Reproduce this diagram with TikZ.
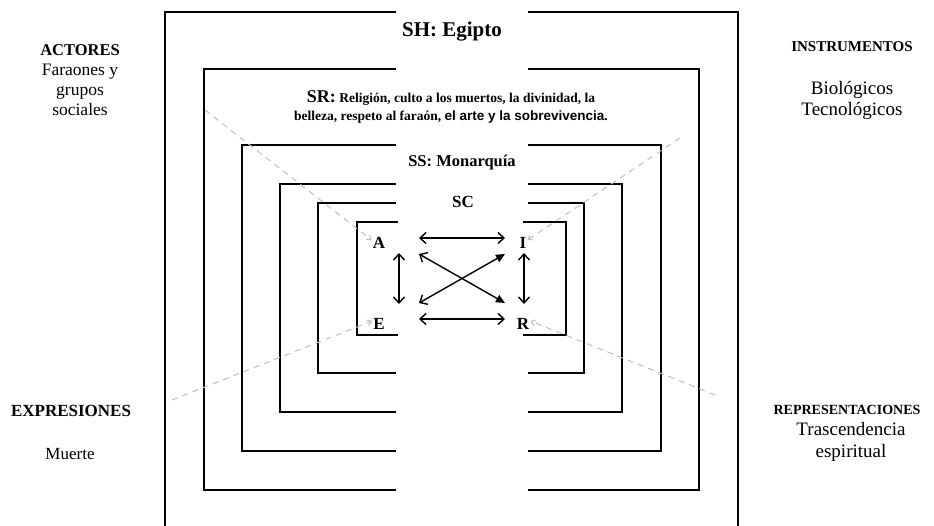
\documentclass[tikz,border=0pt]{standalone}
\usepackage{fontspec}
\setmainfont{Liberation Serif}
\setsansfont{Liberation Sans}
\usepackage{tikz}
\usetikzlibrary{arrows.meta}
\newcommand{\fsz}[2]{\fontsize{#1pt}{#2pt}\selectfont}

\begin{document}
\begin{tikzpicture}[x=1pt, y=-1pt,
  wall/.style={line width=2pt},
  tag/.style={font=\bfseries\fsz{17}{20}, inner sep=1pt},
  rel/.style={line width=1.4pt, {Straight Barb[length=6pt,width=11pt]}-{Straight Barb[length=6pt,width=11pt]}},
  relx/.style={line width=1.4pt, {Straight Barb[length=6pt,width=11pt]}-{Triangle[length=9pt,width=8pt]}},
  guide/.style={gray!50, dash pattern=on 6pt off 5pt, line width=1pt, -{Straight Barb[length=4pt,width=6pt]}}]

\useasboundingbox (0,0) rectangle (934,526);

% SH
\draw[wall] (396,12) -- (165,12) -- (165,526);
\draw[wall] (528,12) -- (738,12) -- (738,526);
% SR
\draw[wall] (396,69) -- (204,69) -- (204,490) -- (396,490);
\draw[wall] (528,69) -- (699,69) -- (699,490) -- (528,490);
% SS
\draw[wall] (396,145) -- (242,145) -- (242,451) -- (396,451);
\draw[wall] (528,145) -- (661,145) -- (661,451) -- (528,451);
% SC
\draw[wall] (396,184) -- (280,184) -- (280,412) -- (396,412);
\draw[wall] (528,184) -- (622,184) -- (622,412) -- (528,412);
\draw[wall] (396,203) -- (318,203) -- (318,373) -- (396,373);
\draw[wall] (528,203) -- (584,203) -- (584,373) -- (528,373);
\draw[wall] (398,222) -- (357,222) -- (357,335) -- (398,335);
\draw[wall] (523,222) -- (566,222) -- (566,335) -- (523,335);

% level titles
\node[font=\bfseries\fsz{21}{24}] (sh) at (452,32) {SH: Egipto};
\node[font=\bfseries\fsz{13.5}{18}, align=center] (sr) at (451,107)
  {{\fsz{18}{18}SR:} Religión, culto a los muertos, la divinidad, la\\
   belleza, respeto al faraón, {\sffamily el arte y la sobrevivencia}.};
\node[font=\bfseries\fsz{16.5}{20}] (ss) at (462,163) {SS: Monarquía};
\node[font=\bfseries\fsz{17}{20}] (sc) at (463,202) {SC};

% core
\node[tag] (A) at (379,243) {A};
\node[tag] (I) at (523,243) {I};
\node[tag] (E) at (379,324) {E};
\node[tag] (R) at (523,324) {R};

\draw[rel] ([xshift=40pt,yshift=5pt]A.center) -- ([xshift=-18pt,yshift=5pt]I.center);
\draw[rel] ([xshift=40pt,yshift=5pt]E.center) -- ([xshift=-18pt,yshift=5pt]R.center);
\draw[rel] ([xshift=20pt,yshift=-10pt]A.center) -- ([xshift=20pt,yshift=20pt]E.center);
\draw[rel] ([xshift=1pt,yshift=-10pt]I.center) -- ([xshift=1pt,yshift=20pt]R.center);
\draw[relx] ([xshift=40pt,yshift=-11pt]A.center) -- ([xshift=-18pt,yshift=21pt]R.center);
\draw[relx] ([xshift=40pt,yshift=21pt]E.center) -- ([xshift=-18pt,yshift=-11pt]I.center);

% side labels
\node[font=\fsz{17.5}{20}, align=center] (act) at (80,80)
  {{\bfseries\fsz{16.5}{20}ACTORES}\\Faraones y\\grupos\\sociales};
\node[font=\bfseries\fsz{15}{18}] (ins) at (852,47) {INSTRUMENTOS};
\node[font=\fsz{19}{21}, align=center] (insl) at (852,100) {Biológicos\\Tecnológicos};
\node[font=\bfseries\fsz{17}{20}] (exp) at (71,411) {EXPRESIONES};
\node[font=\fsz{17}{20}] (expl) at (70,454) {Muerte};
\node[font=\bfseries\fsz{14}{18}] (rep) at (847,410) {REPRESENTACIONES};
\node[font=\fsz{19}{22}, align=center] (repl) at (851,442) {Trascendencia\\espiritual};

% links to the corners
\coordinate (cA) at (205,110);
\coordinate (cI) at (680,138);
\coordinate (cE) at (172,400);
\coordinate (cR) at (715,395);
\draw[guide] (cA) -- ([yshift=3pt]A.west);
\draw[guide] (cI) -- ([yshift=3pt]I.east);
\draw[guide] (cE) -- ([yshift=3pt]E.west);
\draw[guide] (cR) -- ([yshift=3pt]R.east);

\end{tikzpicture}
\end{document}
